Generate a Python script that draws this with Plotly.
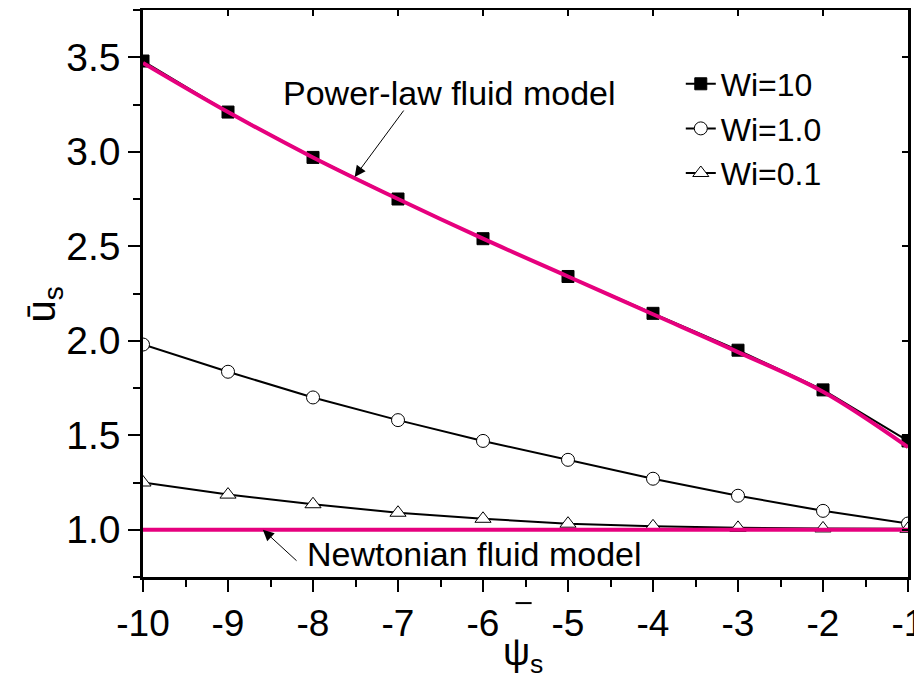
import plotly.graph_objects as go

psi = [-10, -9, -8, -7, -6, -5, -4, -3, -2, -1]
wi10 = [3.48, 3.21, 2.97, 2.75, 2.54, 2.34, 2.145, 1.95, 1.74, 1.47]
wi1 = [1.98, 1.836, 1.70, 1.58, 1.47, 1.37, 1.27, 1.18, 1.10, 1.033]
wi01 = [1.25, 1.186, 1.135, 1.09, 1.058, 1.032, 1.018, 1.01, 1.007, 1.005]
power_law = [3.47, 3.21, 2.97, 2.75, 2.54, 2.34, 2.14, 1.94, 1.73, 1.437]
newtonian = [1.0] * 10

x_tickvals = [-10, -9, -8, -7, -6, -5, -4, -3, -2, -1]
x_ticktext = ["-10", "-9", "-8", "-7", "-6", "-5", "-4", "-3", "-2", "-1"]
y_tickvals = [1.0, 1.5, 2.0, 2.5, 3.0, 3.5]
y_ticktext = ["1.0", "1.5", "2.0", "2.5", "3.0", "3.5"]

PINK = "#E6007E"
FONT = "Arial, Liberation Sans, sans-serif"

fig = go.Figure()
fig.add_trace(go.Scatter(x=psi, y=wi10, mode="lines+markers", name="Wi=10",
                         line=dict(color="black", width=2),
                         marker=dict(symbol="square", size=12, color="black",
                                     line=dict(color="black", width=1))))
fig.add_trace(go.Scatter(x=psi, y=wi1, mode="lines+markers", name="Wi=1.0",
                         line=dict(color="black", width=2),
                         marker=dict(symbol="circle", size=13, color="white",
                                     line=dict(color="black", width=1))))
fig.add_trace(go.Scatter(x=psi, y=wi01, mode="lines+markers", name="Wi=0.1",
                         line=dict(color="black", width=2),
                         marker=dict(symbol="triangle-up", size=14, color="white",
                                     line=dict(color="black", width=1))))
fig.add_trace(go.Scatter(x=psi, y=power_law, mode="lines", showlegend=False,
                         line=dict(color=PINK, width=4, shape="spline")))
fig.add_trace(go.Scatter(x=psi, y=newtonian, mode="lines", showlegend=False,
                         line=dict(color=PINK, width=4)))
# dummy trace so the mirrored top/right axes (inward ticks) are drawn
fig.add_trace(go.Scatter(x=[None], y=[None], xaxis="x2", yaxis="y2",
                         showlegend=False, hoverinfo="skip"))

axis_common = dict(showgrid=False, zeroline=False, linecolor="black", linewidth=2.5,
                   tickcolor="black", tickwidth=2, ticklen=12, ticks="outside",
                   automargin=False, ticklabeloverflow="allow")

fig.update_layout(
    width=914, height=677,
    margin=dict(l=135.3, r=13.7, t=1.5, b=108.3),
    plot_bgcolor="white", paper_bgcolor="white",
    font=dict(family=FONT, size=34, color="black"),
    xaxis=dict(range=[-10, -1], tickmode="array", tickvals=x_tickvals, ticktext=x_ticktext,
               tickfont=dict(family=FONT, size=37, color="black"),
               minor=dict(dtick=0.5, tick0=-10, ticklen=7, tickwidth=2, tickcolor="black", ticks="outside"),
               **axis_common),
    yaxis=dict(range=[0.75, 3.75], tickmode="array", tickvals=y_tickvals, ticktext=y_ticktext,
               tickfont=dict(family=FONT, size=39, color="black"),
               minor=dict(dtick=0.25, tick0=0, ticklen=7, tickwidth=2, tickcolor="black", ticks="outside"),
               **axis_common),
    xaxis2=dict(range=[-10, -1], overlaying="x", side="top", anchor="y",
                showgrid=False, zeroline=False, showline=True, linecolor="black", linewidth=2.5,
                ticks="inside", ticklen=6, tickwidth=2, tickcolor="black", dtick=1, tick0=-10,
                showticklabels=False, automargin=False),
    yaxis2=dict(range=[0.75, 3.75], overlaying="y", side="right", anchor="x",
                showgrid=False, zeroline=False, showline=True, linecolor="black", linewidth=2.5,
                ticks="inside", ticklen=6, tickwidth=2, tickcolor="black", dtick=0.5, tick0=0,
                showticklabels=False, automargin=False),
    legend=dict(x=0.703, y=0.918, xanchor="left", yanchor="top",
                bgcolor="rgba(0,0,0,0)", font=dict(family=FONT, size=32),
                tracegroupgap=0),
    showlegend=True,
)

# arrows
fig.add_annotation(x=-7.51, y=2.867, ax=-6.92, ay=3.226, axref="x", ayref="y",
                   text="", showarrow=True, arrowhead=2, arrowsize=2.2, arrowwidth=1,
                   arrowcolor="black")
fig.add_annotation(x=-8.59, y=1.0, ax=-8.176, ay=0.829, axref="x", ayref="y",
                   text="", showarrow=True, arrowhead=2, arrowsize=2.2, arrowwidth=1,
                   arrowcolor="black")
# labels
fig.add_annotation(x=-6.39, y=3.31, text="Power-law fluid model", showarrow=False,
                   font=dict(family=FONT, size=34, color="black"))
fig.add_annotation(x=-6.10, y=0.87, text="Newtonian fluid model", showarrow=False,
                   font=dict(family=FONT, size=34, color="black"))
# axis titles
fig.add_annotation(xref="paper", yref="paper", x=-0.165, y=0.48,
                   text="ū<sub>s</sub>", textangle=-90, showarrow=False,
                   font=dict(family=FONT, size=40, color="black"))
fig.add_annotation(xref="paper", yref="paper", x=0.497, y=-0.137, yanchor="middle",
                   text="ψ<sub>s</sub>", showarrow=False,
                   font=dict(family=FONT, size=38, color="black"))
fig.add_shape(type="line", xref="paper", yref="paper",
              x0=0.487, x1=0.508, y0=-0.046, y1=-0.046,
              line=dict(color="black", width=2))

fig.write_html("out.html")
